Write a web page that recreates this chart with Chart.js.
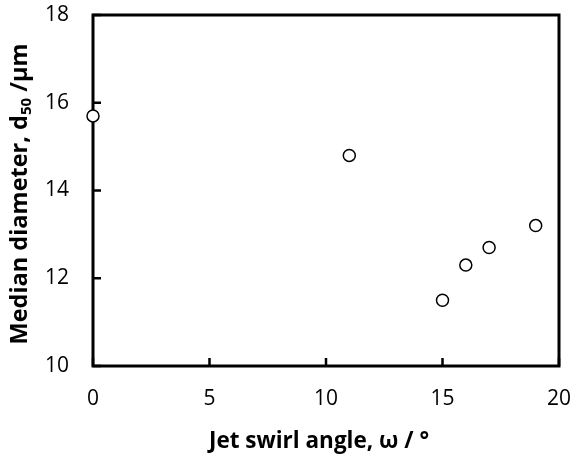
<!DOCTYPE html>
<html>
<head>
<meta charset="utf-8">
<script src="https://cdn.jsdelivr.net/npm/chart.js@4"></script>
<style>
  html, body { margin: 0; padding: 0; background: #fff; }
  #wrap { width: 574px; height: 456px; }
</style>
</head>
<body>
<div id="wrap"><canvas id="chart"></canvas></div>
<script>
const swirlAngles = [0, 11, 15, 16, 17, 19];
const medianDiameters = [15.7, 14.8, 11.5, 12.3, 12.7, 13.2];
const xTicks = [0, 5, 10, 15, 20];
const yTicks = [10, 12, 14, 16, 18];

const FONT = "'Open Sans', 'DejaVu Sans', sans-serif";

// frame + inward tick marks, drawn under the markers
const framePlugin = {
  id: "frame",
  beforeDatasetsDraw(chart) {
    const { ctx, chartArea: a, scales } = chart;
    ctx.save();
    ctx.strokeStyle = "#000";
    ctx.lineWidth = 3;
    ctx.lineCap = "square";
    ctx.strokeRect(a.left, a.top, a.right - a.left, a.bottom - a.top);
    ctx.lineWidth = 2.5;
    ctx.lineCap = "butt";
    ctx.beginPath();
    yTicks.forEach((v) => {
      const y = scales.y.getPixelForValue(v);
      ctx.moveTo(a.left, y);
      ctx.lineTo(a.left + 8, y);
    });
    xTicks.forEach((v) => {
      const x = scales.x.getPixelForValue(v);
      ctx.moveTo(x, a.bottom);
      ctx.lineTo(x, a.bottom - 8);
    });
    ctx.stroke();
    ctx.restore();
  },
  afterDraw(chart) {
    const { ctx } = chart;
    ctx.save();
    ctx.fillStyle = "#000";
    ctx.textBaseline = "alphabetic";

    // x title
    ctx.font = "bold 22.5px " + FONT;
    ctx.textAlign = "center";
    ctx.fillText("Jet swirl angle, ω / °", 319, 448);

    // y title with subscript
    const parts = [
      { t: "Median diameter, d", f: "bold 23.5px " + FONT, dy: 0 },
      { t: "50", f: "bold 15px " + FONT, dy: 4 },
      { t: " /µm", f: "bold 23.5px " + FONT, dy: 0 },
    ];
    ctx.textAlign = "left";
    let total = 0;
    parts.forEach((p) => { ctx.font = p.f; p.w = ctx.measureText(p.t).width; total += p.w; });
    ctx.translate(27, 194);
    ctx.rotate(-Math.PI / 2);
    let x = -total / 2;
    parts.forEach((p) => {
      ctx.font = p.f;
      ctx.fillText(p.t, x, p.dy);
      x += p.w;
    });
    ctx.restore();
  },
};

new Chart(document.getElementById("chart"), {
  type: "scatter",
  data: {
    datasets: [{
      data: swirlAngles.map((x, i) => ({ x, y: medianDiameters[i] })),
      pointStyle: "circle",
      pointRadius: 6,
      pointHoverRadius: 6,
      backgroundColor: "#fff",
      borderColor: "#000",
      borderWidth: 1.5,
      clip: false,
    }],
  },
  options: {
    responsive: true,
    maintainAspectRatio: false,
    animation: false,
    layout: { padding: { left: 0, top: 15, right: 15, bottom: 0 } },
    plugins: { legend: { display: false }, tooltip: { enabled: false } },
    scales: {
      x: {
        type: "linear",
        min: 0,
        max: 20,
        afterBuildTicks: (s) => { s.ticks = xTicks.map((v) => ({ value: v })); },
        afterFit: (s) => { s.height = 90; s.paddingLeft = 0; s.paddingRight = 0; },
        grid: { display: false, drawTicks: false },
        border: { display: false },
        ticks: { color: "#000", font: { family: FONT, size: 21 }, padding: 20 },
      },
      y: {
        type: "linear",
        min: 10,
        max: 18,
        afterBuildTicks: (s) => { s.ticks = yTicks.map((v) => ({ value: v })); },
        afterFit: (s) => { s.width = 93; s.paddingTop = 0; s.paddingBottom = 0; },
        grid: { display: false, drawTicks: false },
        border: { display: false },
        ticks: { color: "#000", font: { family: FONT, size: 21 }, padding: 24 },
      },
    },
  },
  plugins: [framePlugin],
});
</script>
</body>
</html>
